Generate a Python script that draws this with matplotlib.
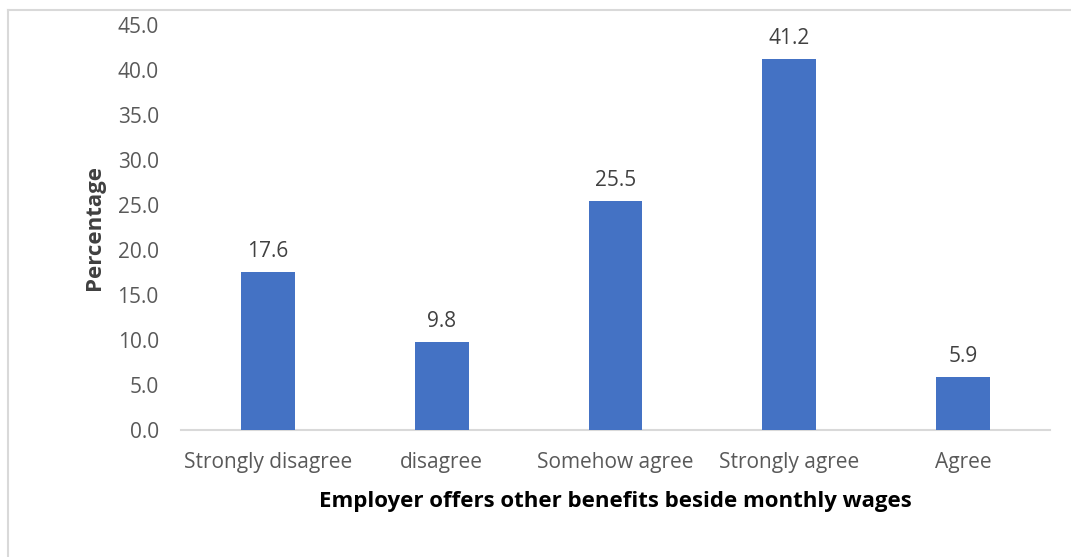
import matplotlib
matplotlib.use("Agg")
import matplotlib.pyplot as plt
from matplotlib.lines import Line2D

categories = ["Strongly disagree", "disagree", "Somehow agree", "Strongly agree", "Agree"]
percentages = [17.6, 9.8, 25.5, 41.2, 5.9]
y_ticks = [0, 5, 10, 15, 20, 25, 30, 35, 40, 45]

plt.rcParams["font.family"] = ["Open Sans", "DejaVu Sans"]

W, H = 1071, 557
fig = plt.figure(figsize=(W / 100, H / 100), dpi=100)
fig.patch.set_facecolor("white")

# plot area in pixels: x 181..1050, y 25..430
ax = fig.add_axes([181 / W, 1 - 430 / H, (1050 - 181) / W, (430 - 25) / H])

x = range(len(categories))
bars = ax.bar(x, percentages, width=0.31, color="#4472C4", zorder=3)

for xi, v in zip(x, percentages):
    ax.annotate(f"{v:.1f}", (xi, v), xytext=(0, 7), textcoords="offset points",
                ha="center", va="bottom", fontsize=15, color="#404040")

ax.set_xlim(-0.5, len(categories) - 0.5)
ax.set_ylim(0, 45)
ax.set_yticks(y_ticks)
ax.set_yticklabels([f"{t:.1f}" for t in y_ticks])
ax.set_xticks(list(x))
ax.set_xticklabels(categories)

for side in ["top", "right", "left"]:
    ax.spines[side].set_visible(False)
ax.spines["bottom"].set_color("#d9d9d9")
ax.spines["bottom"].set_linewidth(1.5)

ax.tick_params(axis="both", length=0, labelsize=15, labelcolor="#595959")
ax.tick_params(axis="y", pad=16)
ax.tick_params(axis="x", pad=15.5)

ax.set_xlabel("Employer offers other benefits beside monthly wages",
              fontsize=16, fontweight="bold", color="black", labelpad=13.5)
ax.set_ylabel("Percentage", fontsize=16, fontweight="bold", color="#404040", labelpad=9)

# chart frame (top and left edges visible)
fig.add_artist(Line2D([7.5 / W, 7.5 / W], [0, 1 - 9.5 / H], transform=fig.transFigure,
                      color="#d9d9d9", linewidth=1.5))
fig.add_artist(Line2D([7.5 / W, 1], [1 - 9.5 / H, 1 - 9.5 / H], transform=fig.transFigure,
                      color="#d9d9d9", linewidth=1.5))

fig.savefig("out.png", dpi=100)
